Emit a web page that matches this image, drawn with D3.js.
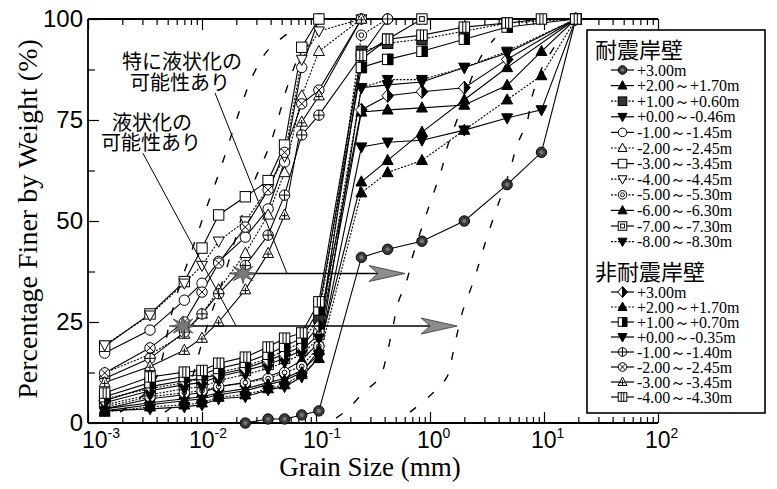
<!DOCTYPE html>
<html><head><meta charset="utf-8">
<script src="https://cdn.jsdelivr.net/npm/d3@7"></script>
<style>body{margin:0;background:#fff}svg{display:block}</style>
</head><body>
<svg id="c" width="777" height="489"></svg>
<script>
// ---------------- data ----------------
const sizes = [0.0014, 0.0035, 0.007, 0.01, 0.014, 0.024, 0.038, 0.053, 0.075, 0.106, 0.25, 0.425, 0.85, 2, 4.75, 9.5, 19];

const seismicNames = ["+3.00m","+2.00～+1.70m","+1.00～+0.60m","+0.00～-0.46m","-1.00～-1.45m","-2.00～-2.45m","-3.00～-3.45m","-4.00～-4.45m","-5.00～-5.30m","-6.00～-6.30m","-7.00～-7.30m","-8.00～-8.30m"];
const seismicValues = [
  [null,null,null,null,null,0,1,1,2,3,41,43,45,50,59,67,100],
  [3.5,6,7,7.5,9,10,11.5,13,15.5,20,77,77.5,78,78.7,83.6,92,100],
  [6,8.5,10,11,12.5,14,16,18,20,26,92,94,95,97,99,null,100],
  [3.5,5,6,6.5,7.5,8.5,10,11,13,17,68.3,69.5,70,72.5,75.5,77.5,100],
  [17.3,23,30.4,34.6,40,46,53,64.6,88,100,null,null,null,null,null,null,100],
  [12.4,17,22,27,33,42,51.5,62,81,92,100,null,null,null,null,null,100],
  [19,27,35,43.3,51.5,56,60,68.8,93,100,null,null,null,null,null,null,100],
  [19.3,26.7,34.6,39,45,50,58,66,90,97,100,null,null,null,null,null,100],
  [4,6.5,7.5,8,9,10,11,12.5,14,19,96,100,null,null,null,null,100],
  [3,4.5,5.5,6,7,8,9.5,10.5,12.5,18,59.7,65,72,80,88,null,100],
  [5,8,9.5,10,11.5,13,14.5,16,18,22,90,95,100,null,null,null,100],
  [4.5,7,8.5,9,10.5,12,13.5,15,17,21,83,85,85,88,92,null,100]
];
const nonSeismicNames = ["+3.00m","+2.00～+1.70m","+1.00～+0.70m","+0.00～-0.35m","-1.00～-1.40m","-2.00～-2.45m","-3.00～-3.45m","-4.00～-4.30m"];
const nonSeismicValues = [
  [5.5,9,10.5,11,12,13.5,15.5,17,19,24,77.5,81,82,83,90,null,100],
  [2.7,4,4.5,5,6.4,7,8.5,9.5,12,16,57,62,65,72.5,80,86,100],
  [6.5,10,11.5,12,13.5,15,17,19,21,28,88,90,92,95,98,null,100],
  [3,3.5,4,4.5,6,6.5,8.2,9,11.4,16.3,83,83.7,84.4,88,91.6,null,100],
  [11,16,22.5,27,32,39,46.5,56.4,71.3,76.2,null,100,null,null,null,null,100],
  [12.4,18.6,25,32.4,39.6,48.5,57.7,67,79,82.4,100,null,null,null,null,null,100],
  [10,14,18,21,25,33,42,51.5,74.5,81,100,null,null,null,null,null,100],
  [7.4,11.4,12.6,13,14.8,16.3,18.8,21,22.3,30,91,95,96,98,99,100,100]
];
const seismicTitle = "耐震岸壁";
const nonSeismicTitle = "非耐震岸壁";

// liquefaction gradation boundary curves [size mm, percent]
const boundOuterLeft = [[0.00191,2.7],[0.00286,6.2],[0.00387,10.6],[0.00455,16.8],[0.00524,25.5],[0.00641,34.2],[0.00817,42.8],[0.0106,52.2],[0.0144,62.6],[0.0203,75.5],[0.028,86.1],[0.0379,92.3],[0.0592,96.8]];
const boundInnerLeft = [[0.00473,2.7],[0.00668,6.2],[0.00834,11.9],[0.00959,18.1],[0.0117,26],[0.015,34.7],[0.0195,45.3],[0.0248,55.2],[0.031,62.1],[0.0394,68.8],[0.0483,77],[0.0567,83.7],[0.0725,91.1],[0.104,96]];
const boundInnerRight = [[0.15,1.2],[0.187,3.2],[0.258,7.4],[0.364,11.4],[0.42,17.3],[0.473,23.8],[0.524,29.7],[0.628,35.4],[0.71,41.6],[0.942,52.2],[1.274,63.1],[1.41,68.1],[1.83,77],[2.33,85.6],[2.86,91.1],[3.72,95.3]];
const boundOuterRight = [[0.668,2.7],[1.06,7.4],[1.41,11.4],[1.59,17.3],[1.76,23],[1.95,28],[2.38,34.7],[2.75,40.3],[3.16,46],[3.95,54],[5.03,62.6],[5.8,68.8],[7.1,74.5],[7.85,80.7],[9.6,87.9],[12.7,93.6]];

const arrowsData = [{from:0.0229,to:0.604,pct:37},{from:0.00681,to:1.73,pct:24}];
const leaders = [[[0.013,81.7],[0.0557,37]],[[0.00303,66.8],[0.0199,24]]];
const noteTop = ["特に液状化の","可能性あり"];
const noteMid = ["液状化の","可能性あり"];

const xTickExps = [-3,-2,-1,0,1,2];
const yTickLabels = [0,25,50,75,100];
const xTitle = "Grain Size (mm)";
const yTitle = "Percentage Finer by Weight (%)";

// --------------- styles ---------------
const seismicMarkers = ["circH","triF","sqF","triDF","circ","tri","sq","triD","dbl","triF","sqIn","triDF"];
const seismicDash = [null,null,"2,1.5",null,null,"2,1.5",null,"2,1.5","2,1.5",null,null,"2,1.5"];
const nonSeismicMarkers = ["diaH","triF","sqH","triDF","circP","circX","triL","sqB"];
const nonSeismicDash = [null,"2,1.5",null,null,null,null,null,null];

// --------------- chart ----------------
const svg = d3.select("#c");
const L=88, R=658, T=19, B=423;
const x = d3.scaleLog().domain([1e-3,1e2]).range([L,R]);
const y = d3.scaleLinear().domain([0,100]).range([B,T]);
const sans = "'Liberation Sans', Arial, Helvetica, sans-serif";
const serif = "'Liberation Serif', 'Times New Roman', serif";
const cjk = "'Noto Sans CJK JP', 'Noto Sans', sans-serif";

function marker(g, type, cx, cy, h){
  const m = g.append("g").attr("transform",`translate(${cx},${cy})`).attr("stroke","#000").attr("stroke-width",1);
  const tri = `M0,${-h*1.15}L${h*1.05},${h*0.8}L${-h*1.05},${h*0.8}Z`;
  const triD = `M0,${h*1.15}L${h*1.05},${-h*0.8}L${-h*1.05},${-h*0.8}Z`;
  switch(type){
    case "circH": m.append("circle").attr("r",h).attr("fill","#3a3a3a"); m.append("circle").attr("r",h*0.4).attr("fill","#777").attr("stroke","none"); break;
    case "circ": m.append("circle").attr("r",h).attr("fill","#fff"); break;
    case "dbl": m.append("circle").attr("r",h).attr("fill","#fff"); m.append("circle").attr("r",h*0.45).attr("fill","#fff"); break;
    case "circP": m.append("circle").attr("r",h).attr("fill","#fff"); m.append("path").attr("d",`M${-h},0H${h}M0,${-h}V${h}`); break;
    case "circX": m.append("circle").attr("r",h).attr("fill","#fff"); {const k=h*0.707; m.append("path").attr("d",`M${-k},${-k}L${k},${k}M${k},${-k}L${-k},${k}`);} break;
    case "triF": m.append("path").attr("d",tri).attr("fill","#000"); break;
    case "tri": m.append("path").attr("d",tri).attr("fill","#fff"); break;
    case "triL": m.append("path").attr("d",tri).attr("fill","#fff"); m.append("path").attr("d",`M${-h*0.55},${h*0.15}H${h*0.55}M0,${-h*0.4}V${h*0.8}`); break;
    case "triDF": m.append("path").attr("d",triD).attr("fill","#000"); break;
    case "triD": m.append("path").attr("d",triD).attr("fill","#fff"); break;
    case "sqF": m.append("rect").attr("x",-h).attr("y",-h).attr("width",2*h).attr("height",2*h).attr("fill","#333"); break;
    case "sq": m.append("rect").attr("x",-h).attr("y",-h).attr("width",2*h).attr("height",2*h).attr("fill","#fff"); break;
    case "sqIn": m.append("rect").attr("x",-h).attr("y",-h).attr("width",2*h).attr("height",2*h).attr("fill","#fff"); m.append("rect").attr("x",-h*0.45).attr("y",-h*0.45).attr("width",h*0.9).attr("height",h*0.9).attr("fill","#fff"); break;
    case "sqH": m.append("rect").attr("x",-h).attr("y",-h).attr("width",2*h).attr("height",2*h).attr("fill","#fff"); m.append("rect").attr("x",0).attr("y",-h).attr("width",h).attr("height",2*h).attr("fill","#000"); break;
    case "sqB": m.append("rect").attr("x",-h).attr("y",-h).attr("width",2*h).attr("height",2*h).attr("fill","#fff"); m.append("path").attr("d",`M${-h*0.3},${-h}V${h}M${h*0.3},${-h}V${h}`); break;
    case "diaH": m.append("path").attr("d",`M0,${-h*1.25}L${h*1.1},0L0,${h*1.25}L${-h*1.1},0Z`).attr("fill","#fff"); m.append("path").attr("d",`M0,${-h*1.25}L${h*1.1},0L0,${h*1.25}Z`).attr("fill","#000"); break;
  }
}

// boundary curves
const curveLine = d3.line().x(d=>x(d[0])).y(d=>y(d[1])).curve(d3.curveCatmullRom);
[boundOuterLeft,boundInnerLeft,boundInnerRight,boundOuterRight].forEach(b=>{
  svg.append("path").attr("d",curveLine(b)).attr("fill","none").attr("stroke","#000")
    .attr("stroke-width",1.4).attr("stroke-dasharray","8,15");
});

// axes ticks
const minor = [];
for(let e=-3;e<2;e++) for(let k=2;k<=9;k++) minor.push(k*Math.pow(10,e));
const major = xTickExps.map(e=>Math.pow(10,e));
function tickAxis(axis, tr){
  const g = svg.append("g").attr("transform",tr).call(axis);
  g.select(".domain").remove();
  g.selectAll("line").attr("stroke","#000").attr("stroke-width",1.2);
  return g;
}
tickAxis(d3.axisBottom(x).tickValues(minor).tickSize(-6).tickFormat(""),`translate(0,${B})`);
tickAxis(d3.axisBottom(x).tickValues(major).tickSize(-11).tickFormat(""),`translate(0,${B})`);
tickAxis(d3.axisTop(x).tickValues(minor).tickSize(-6).tickFormat(""),`translate(0,${T})`);
tickAxis(d3.axisTop(x).tickValues(major).tickSize(-11).tickFormat(""),`translate(0,${T})`);
tickAxis(d3.axisLeft(y).tickValues([12.5,37.5,62.5,87.5]).tickSize(-7).tickFormat(""),`translate(${L},0)`);
const yg = tickAxis(d3.axisLeft(y).tickValues(yTickLabels).tickSize(-11).tickPadding(5).tickFormat(d=>d),`translate(${L},0)`);
yg.selectAll("text").attr("font-family",sans).attr("font-size",24).attr("fill","#000");

// frame
const fr = svg.append("g").attr("stroke","#000").attr("stroke-width",1.8);
fr.append("line").attr("x1",L).attr("x2",R).attr("y1",T).attr("y2",T);
fr.append("line").attr("x1",L).attr("x2",L).attr("y1",T).attr("y2",B);
fr.append("line").attr("x1",L).attr("x2",R).attr("y1",B).attr("y2",B);

// x tick labels
xTickExps.forEach((e,i)=>{
  const t = svg.append("text").attr("x",x(Math.pow(10,e)) - 13 + (i===0?7:0)).attr("y",448)
    .attr("font-family",sans).attr("font-size",23).attr("fill","#000");
  t.append("tspan").text("10");
  t.append("tspan").attr("dy",-10).attr("font-size",14).text(String(e));
});

// titles
svg.append("text").attr("x",370).attr("y",476).attr("text-anchor","middle")
  .attr("font-family",serif).attr("font-size",27).text(xTitle);
svg.append("text").attr("transform","translate(37,219) rotate(-90)").attr("text-anchor","middle")
  .attr("font-family",serif).attr("font-size",28).text(yTitle);

// series lines + markers
const line = d3.line().x(d=>x(d[0])).y(d=>y(d[1]));
const allSeries = [];
seismicValues.forEach((v,i)=>allSeries.push({v, m:seismicMarkers[i], dash:seismicDash[i]}));
nonSeismicValues.forEach((v,i)=>allSeries.push({v, m:nonSeismicMarkers[i], dash:nonSeismicDash[i]}));
const lg = svg.append("g");
allSeries.forEach(s=>{
  s.pts = sizes.map((sz,i)=>[sz,s.v[i]]).filter(d=>d[1]!=null);
  lg.append("path").attr("d",line(s.pts)).attr("fill","none").attr("stroke","#000")
    .attr("stroke-width",1.1).attr("stroke-dasharray",s.dash);
});
const mg = svg.append("g");
allSeries.forEach(s=>{
  s.pts.forEach(p=>marker(mg, s.m, x(p[0]), y(p[1]), 5.2));
});

// arrows with stars
function starPath(n, ro, ri, sy){
  let d="";
  for(let k=0;k<2*n;k++){
    const r = k%2===0?ro:ri, a = Math.PI*k/n;
    d += (k===0?"M":"L") + (r*Math.cos(a)).toFixed(2)+","+(r*Math.sin(a)*sy).toFixed(2);
  }
  return d+"Z";
}
const ag = svg.append("g");
arrowsData.forEach(a=>{
  const x0=x(a.from), x1=x(a.to), yy=y(a.pct);
  ag.append("line").attr("x1",x0).attr("x2",x1-26).attr("y1",yy).attr("y2",yy).attr("stroke","#000").attr("stroke-width",1.6);
  ag.append("path").attr("d",`M${x1},${yy}L${x1-36},${yy-8}L${x1-27},${yy}L${x1-36},${yy+8}Z`)
    .attr("fill","#8c8c8c").attr("stroke","#333").attr("stroke-width",0.8);
  ag.append("path").attr("transform",`translate(${x0},${yy})`).attr("d",starPath(8,14,5,0.72))
    .attr("fill","#7a7a7a").attr("stroke","#333").attr("stroke-width",0.7);
});
leaders.forEach(l=>{
  ag.append("line").attr("x1",x(l[0][0])).attr("y1",y(l[0][1])).attr("x2",x(l[1][0])).attr("y2",y(l[1][1]))
    .attr("stroke","#000").attr("stroke-width",1);
});

// notes (each note as one text block of two lines)
const ng = svg.append("g").attr("font-family",cjk).attr("font-size",20).attr("text-anchor","middle").attr("fill","#000");
const n1 = ng.append("text");
n1.append("tspan").attr("x",182).attr("y",69).text(noteTop[0]);
n1.append("tspan").attr("x",180).attr("y",90).text(noteTop[1]);
const n2 = ng.append("text");
n2.append("tspan").attr("x",152).attr("y",130).text(noteMid[0]);
n2.append("tspan").attr("x",151).attr("y",150).text(noteMid[1]);

// legend
const leg = svg.append("g");
leg.append("rect").attr("x",587).attr("y",30).attr("width",178).attr("height",383)
  .attr("fill","#fff").attr("stroke","#000").attr("stroke-width",1.6);
function legSection(title, titleBase, names, mks, dashes, y0, dy){
  names.forEach((n,i)=>{
    const yy = y0+i*dy;
    leg.append("line").attr("x1",611).attr("x2",634).attr("y1",yy).attr("y2",yy)
      .attr("stroke","#000").attr("stroke-width",1.2).attr("stroke-dasharray",dashes[i]);
    marker(leg, mks[i], 622.5, yy, 4.3);
  });
  leg.append("text").attr("x",595).attr("y",titleBase).attr("font-family",cjk).attr("font-size",22).text(title);
  const t = leg.append("text").attr("font-family",serif).attr("font-size",16);
  names.forEach((n,i)=>{
    t.append("tspan").attr("x",637).attr("y",y0+i*dy+5.5).text(n);
  });
}
legSection(seismicTitle, 58, seismicNames, seismicMarkers, seismicDash, 70, 15.6);
legSection(nonSeismicTitle, 280, nonSeismicNames, nonSeismicMarkers, nonSeismicDash, 292, 15);
</script>
</body></html>
